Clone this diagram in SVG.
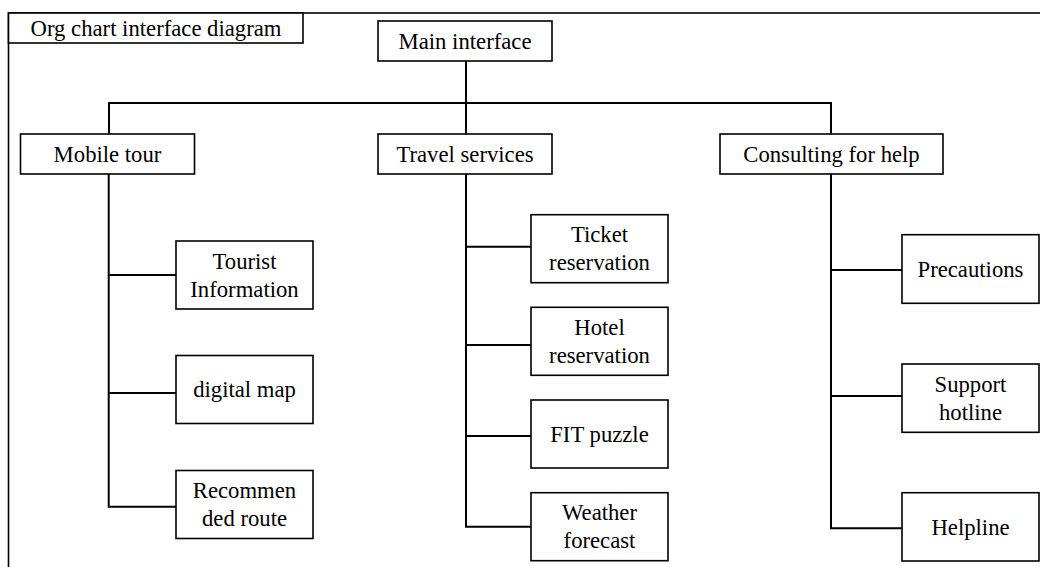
<svg xmlns="http://www.w3.org/2000/svg" width="1040" height="567" viewBox="0 0 1040 567">
  <style>
    .box { fill: #fff; stroke: #000; stroke-width: 1.6; }
    .frame { fill: none; stroke: #000; stroke-width: 1.6; }
    .wire { fill: none; stroke: #000; stroke-width: 2; }
    text { font-family: "Liberation Serif", "Times New Roman", serif; font-size: 22.7px; fill: #000; text-anchor: middle; }
  </style>
  <rect width="1040" height="567" fill="#fff"/>

  <!-- outer frame, cut by the page edges -->
  <rect class="frame" x="8.5" y="13" width="1100" height="600"/>

  <g id="title">
    <rect class="box" x="8.5" y="13" width="294.5" height="30"/>
    <text x="156" y="35.5">Org chart interface diagram</text>
  </g>

  <!-- connectors -->
  <g id="connectors">
    <path class="wire" d="M466,61 V134 M109,134 V103 H831 V134"/>
    <!-- Mobile tour branch -->
    <path class="wire" d="M108.7,174 V506.7 H176 M108.7,275 H176 M108.7,393 H176"/>
    <!-- Travel services branch -->
    <path class="wire" d="M466,174 V526.7 H531 M466,246.7 H531 M466,345 H531 M466,436 H531"/>
    <!-- Consulting branch -->
    <path class="wire" d="M831,174 V528.3 H902 M831,270 H902 M831,396 H902"/>
  </g>

  <g id="main">
    <rect class="box" x="378" y="21" width="174" height="40"/>
    <text x="465" y="48.5">Main interface</text>
  </g>

  <g id="mobile-tour">
    <rect class="box" x="20.5" y="134" width="174" height="40"/>
    <text x="107.5" y="161.5">Mobile tour</text>
  </g>
  <g id="travel-services">
    <rect class="box" x="378" y="134" width="174" height="40"/>
    <text x="465" y="161.5">Travel services</text>
  </g>
  <g id="consulting">
    <rect class="box" x="720" y="134" width="223" height="40"/>
    <text x="831.5" y="161.5">Consulting for help</text>
  </g>

  <g id="tourist-info">
    <rect class="box" x="176" y="241" width="137" height="68"/>
    <text x="244.5" y="268.5">Tourist</text>
    <text x="244.5" y="296.5">Information</text>
  </g>
  <g id="digital-map">
    <rect class="box" x="176" y="355.5" width="137" height="68"/>
    <text x="244.5" y="397">digital map</text>
  </g>
  <g id="recommended-route">
    <rect class="box" x="176" y="470.5" width="137" height="68"/>
    <text x="244.5" y="497.5">Recommen</text>
    <text x="244.5" y="525.5">ded route</text>
  </g>

  <g id="ticket">
    <rect class="box" x="531" y="214.7" width="137" height="68"/>
    <text x="599.5" y="242">Ticket</text>
    <text x="599.5" y="270">reservation</text>
  </g>
  <g id="hotel">
    <rect class="box" x="531" y="307.3" width="137" height="68"/>
    <text x="599.5" y="334.5">Hotel</text>
    <text x="599.5" y="362.5">reservation</text>
  </g>
  <g id="fit-puzzle">
    <rect class="box" x="531" y="400" width="137" height="68"/>
    <text x="599.5" y="441.5">FIT puzzle</text>
  </g>
  <g id="weather">
    <rect class="box" x="531" y="492.7" width="137" height="68"/>
    <text x="599.5" y="520">Weather</text>
    <text x="599.5" y="548">forecast</text>
  </g>

  <g id="precautions">
    <rect class="box" x="902" y="234.7" width="137" height="68.6"/>
    <text x="970.5" y="276.5">Precautions</text>
  </g>
  <g id="support-hotline">
    <rect class="box" x="902" y="364" width="137" height="68.3"/>
    <text x="970.5" y="391.5">Support</text>
    <text x="970.5" y="419.5">hotline</text>
  </g>
  <g id="helpline">
    <rect class="box" x="902" y="492.7" width="137" height="68.3"/>
    <text x="970.5" y="534.5">Helpline</text>
  </g>
</svg>
